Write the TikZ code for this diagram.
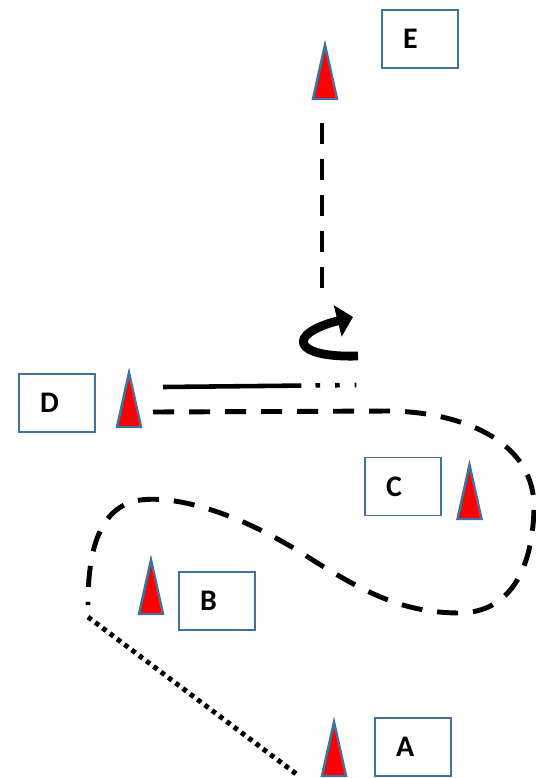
\documentclass[tikz,border=0pt]{standalone}
\usepackage{fontspec}
\setmainfont{Carlito}
\usetikzlibrary{arrows.meta}
\definecolor{edgeblue}{RGB}{65,113,156}
\begin{document}
\begin{tikzpicture}[x=0.02cm,y=-0.02cm,
    box/.style={draw=edgeblue, line width=1.1pt, inner xsep=0.42cm, inner ysep=0pt,
        text width=0.68cm, minimum height=1.16cm, align=left,
        font=\fontsize{17}{20}\selectfont\bfseries},
    cone/.style={draw=edgeblue, fill=red, line width=1.4pt},
    course/.style={line width=2.8pt, dash pattern=on 12pt off 8.5pt},
    back/.style={line width=2.8pt, dash pattern=on 2.6pt off 2.6pt}]
    \useasboundingbox (0,0) rectangle (536,778);
    % the boxes
    \node[box] (E) at (420,39) {E};
    \node[box] (D) at (57,403) {D};
    \node[box] (C) at (403,486.5) {C};
    \node[box] (B) at (217,601) {B};
    \node[box] (A) at (413,747) {A};
    % the cones
    \foreach \x/\y in {325/99, 129/427, 469.5/519, 151/614, 334/776}
        \draw[cone] ({\x-12},\y) -- (\x,{\y-54}) -- ({\x+12},\y) -- cycle;
    % the course
    \coordinate (start) at (88,617);
    \coordinate (turnA) at (299,776);
    \coordinate (loopend) at (88,605);
    \coordinate (passD) at (153,412);
    \coordinate (runout) at (163,387);
    \coordinate (runin) at (358,385);
    \coordinate (uturn) at (358,356);
    \coordinate (uturnend) at (353,317);
    \coordinate (upfrom) at (322,288);
    \coordinate (upto) at (322,123);
    \draw[back] (start) -- (turnA);
    \draw[course] (passD) -- (390,411) .. controls (460,412) and (536,440) .. (534,510)
        .. controls (532,570) and (510,612) .. (460,613)
        .. controls (400,613) and (360,590) .. (300,552)
        .. controls (240,515) and (180,495) .. (140,500)
        .. controls (95,507) and (88,560) .. (loopend);
    \draw[line width=2.6pt, dash pattern=on 78.8pt off 8pt on 2.6pt off 8.6pt on 2.6pt off 8.5pt on 1pt off 20pt]
        (runout) -- (runin);
    \draw[line width=5pt, -{Triangle[length=9pt,width=18pt]}]
        (uturn) .. controls (292,358) and (286,334) .. (uturnend);
    \draw[course] (upfrom) -- (upto);
\end{tikzpicture}
\end{document}
